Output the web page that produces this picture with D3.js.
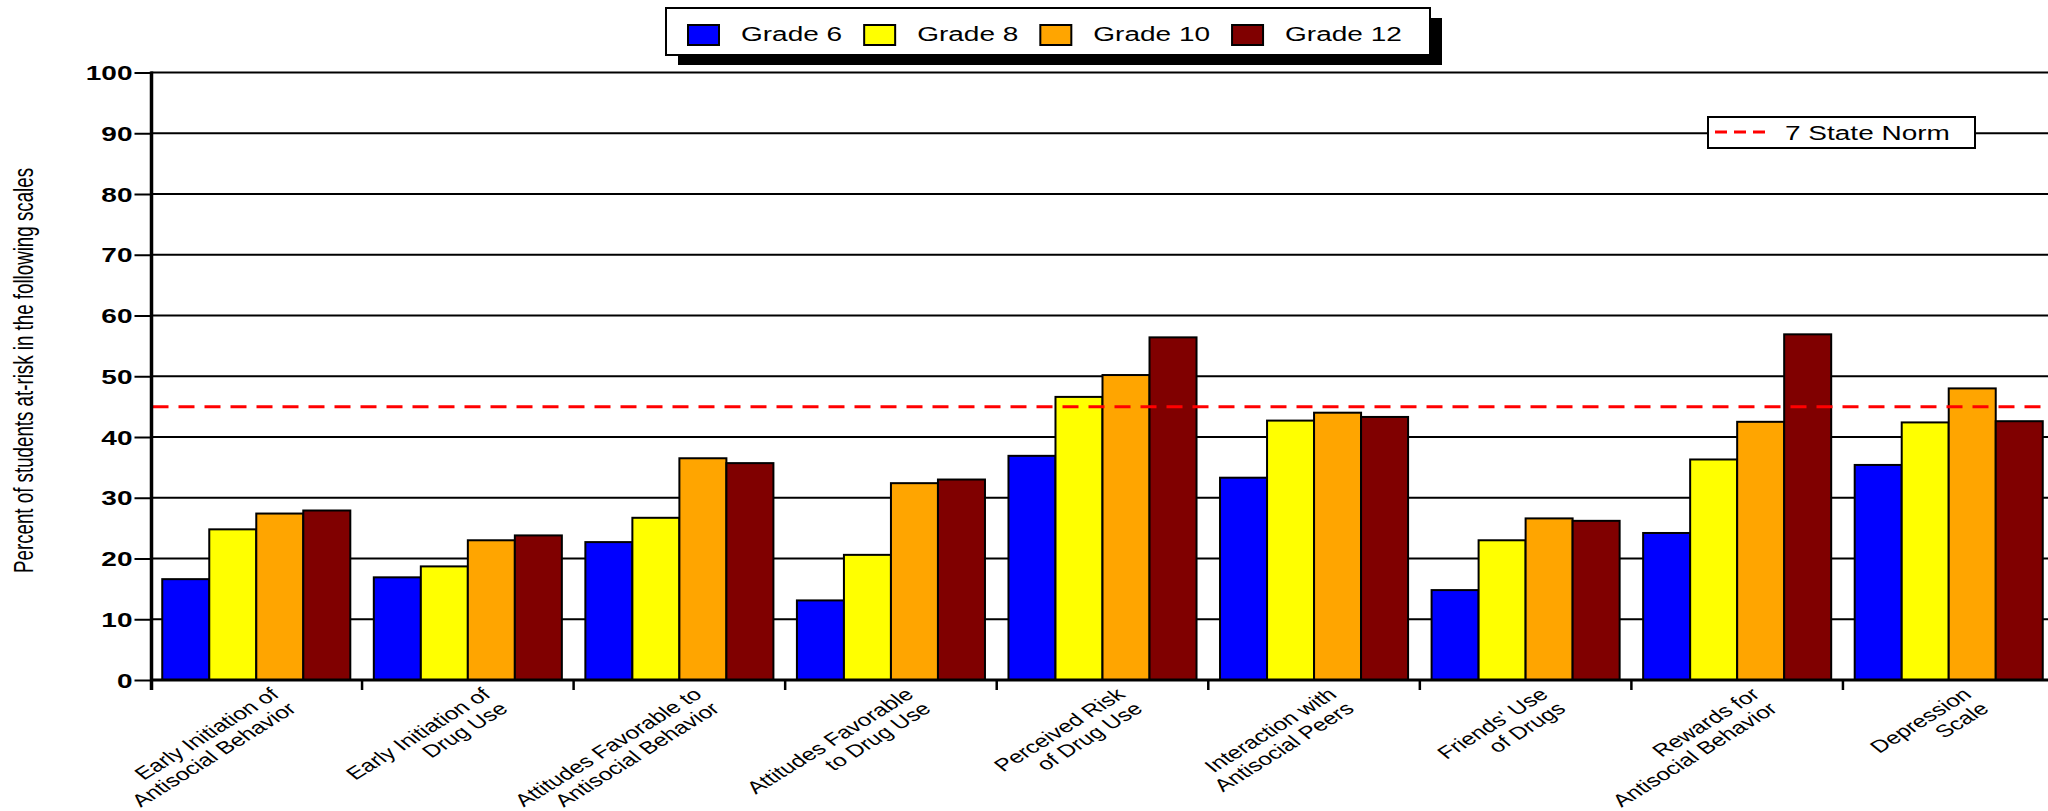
<!DOCTYPE html>
<html>
<head>
<meta charset="utf-8">
<script src="https://d3js.org/d3.v7.min.js"></script>
<style>
  html, body { margin: 0; padding: 0; background: #ffffff; }
  svg { display: block; }
  text { font-family: "Liberation Sans", Arial, sans-serif; fill: #000; }
</style>
</head>
<body>
<script>
// ---------- data ----------
const categories = [
  "Early Initiation of\nAntisocial Behavior",
  "Early Initiation of\nDrug Use",
  "Attitudes Favorable to\nAntisocial Behavior",
  "Attitudes Favorable\nto Drug Use",
  "Perceived Risk\nof Drug Use",
  "Interaction with\nAntisocial Peers",
  "Friends' Use\nof Drugs",
  "Rewards for\nAntisocial Behavior",
  "Depression\nScale"
];
const grades = ["Grade 6", "Grade 8", "Grade 10", "Grade 12"];
const grade6  = [16.6, 16.9, 22.7, 13.1, 36.9, 33.3, 14.8, 24.2, 35.4];
const grade8  = [24.8, 18.7, 26.7, 20.6, 46.6, 42.7, 23.0, 36.3, 42.4];
const grade10 = [27.4, 23.0, 36.5, 32.4, 50.2, 44.0, 26.6, 42.5, 48.0];
const grade12 = [27.9, 23.8, 35.7, 33.0, 56.4, 43.3, 26.2, 56.9, 42.6];
const seriesValues = [grade6, grade8, grade10, grade12];
const gradeColors = ["#0000ff", "#ffff00", "#ffa500", "#800000"];
const yTicks = [0, 10, 20, 30, 40, 50, 60, 70, 80, 90, 100];
const normValue = 45;
const normLabel = "7 State Norm";
const yTitle = "Percent of students at-risk in the following scales";

// ---------- layout ----------
const W = 2048, H = 811;
const SX = 1.4; // horizontal stretch of the original picture's text

const svg = d3.select("body").append("svg").attr("width", W).attr("height", H);

const x0 = d3.scaleBand().domain(categories).range([150.5, 2054.5]).padding(0);
const x1 = d3.scaleBand().domain(grades).range([0, x0.bandwidth()])
  .paddingInner(0).paddingOuter(0.25);
const y = d3.scaleLinear().domain([0, 100]).range([680, 72.5]);
const color = d3.scaleOrdinal().domain(grades).range(gradeColors);

const [xL, xR] = x0.range();

// gridlines
svg.append("g").selectAll("line")
  .data(yTicks.filter(t => t > 0))
  .join("line")
  .attr("x1", xL).attr("x2", xR)
  .attr("y1", d => y(d)).attr("y2", d => y(d))
  .attr("stroke", "#000").attr("stroke-width", 2);

// bars
const rows = categories.map((c, i) => ({
  cat: c,
  vals: grades.map((g, j) => ({ grade: g, value: seriesValues[j][i] }))
}));
svg.append("g").selectAll("g")
  .data(rows)
  .join("g")
  .attr("transform", d => `translate(${x0(d.cat)},0)`)
  .selectAll("rect")
  .data(d => d.vals)
  .join("rect")
  .attr("x", d => x1(d.grade))
  .attr("width", x1.bandwidth())
  .attr("y", d => y(d.value))
  .attr("height", d => y(0) - y(d.value))
  .attr("fill", d => color(d.grade))
  .attr("stroke", "#000")
  .attr("stroke-width", 2);

// norm line
svg.append("line")
  .attr("x1", xL + 2).attr("x2", xR)
  .attr("y1", y(normValue)).attr("y2", y(normValue))
  .attr("stroke", "#ff0000").attr("stroke-width", 3)
  .attr("stroke-dasharray", "16 10");

// y axis
const yAxis = d3.axisLeft(y).tickValues(yTicks).tickSize(17).tickSizeOuter(0);
const yg = svg.append("g").attr("transform", `translate(${xL + 1},0)`).call(yAxis);
yg.select(".domain").remove();
yg.selectAll(".tick line").attr("stroke", "#000").attr("stroke-width", 2);
yg.selectAll(".tick text")
  .attr("x", -19 / SX)
  .attr("dy", "0.36em")
  .attr("transform", `scale(${SX},1)`)
  .style("font-size", "20px")
  .style("font-weight", "bold")
  .style("font-family", "'Liberation Sans', Arial, sans-serif")
  .attr("fill", "#1a1a1a");
svg.append("line")
  .attr("x1", xL + 1).attr("x2", xL + 1)
  .attr("y1", y(100) - 1).attr("y2", y(0) + 10)
  .attr("stroke", "#000").attr("stroke-width", 3.5);

// x axis line + boundary ticks
svg.append("line")
  .attr("x1", xL).attr("x2", xR)
  .attr("y1", y(0)).attr("y2", y(0))
  .attr("stroke", "#000").attr("stroke-width", 3);
svg.append("g").selectAll("line")
  .data(categories.slice(1))
  .join("line")
  .attr("x1", d => x0(d)).attr("x2", d => x0(d))
  .attr("y1", y(0)).attr("y2", y(0) + 10)
  .attr("stroke", "#000").attr("stroke-width", 2.5);

// x labels (two lines, right aligned, slanted)
const lab = svg.append("g").selectAll("g")
  .data(categories)
  .join("g")
  .attr("transform", d => `translate(${x0(d) + x0.bandwidth() / 2 + 24},${y(0) + 16}) scale(${SX},1) rotate(-41)`);
lab.each(function(d) {
  const g = d3.select(this);
  d.split("\n").forEach((line, i) => {
    g.append("text")
      .attr("x", 0).attr("y", i * 19)
      .attr("text-anchor", "end")
      .style("font-size", "17.5px")
      .attr("fill", "#1a1a1a")
      .text(line);
  });
});

// y title
svg.append("text")
  .attr("transform", `translate(33,370.5) scale(${SX},1) rotate(-90)`)
  .attr("text-anchor", "middle")
  .style("font-size", "20px")
  .attr("textLength", 405)
  .attr("lengthAdjust", "spacingAndGlyphs")
  .text(yTitle);

// ---------- top legend ----------
const lg = svg.append("g");
lg.append("rect").attr("x", 678).attr("y", 18).attr("width", 764).attr("height", 47).attr("fill", "#000");
lg.append("rect").attr("x", 666).attr("y", 8).attr("width", 764).attr("height", 47)
  .attr("fill", "#fff").attr("stroke", "#000").attr("stroke-width", 2);
let cur = 688;
grades.forEach(g => {
  lg.append("rect").attr("x", cur).attr("y", 25).attr("width", 31).attr("height", 20)
    .attr("fill", color(g)).attr("stroke", "#000").attr("stroke-width", 2);
  const t = lg.append("text")
    .attr("transform", `translate(${cur + 53},41) scale(${SX},1)`)
    .style("font-size", "20px")
    .attr("fill", "#1a1a1a")
    .text(g);
  const w = t.node().getComputedTextLength() * SX;
  cur += 53 + w + 22;
});

// ---------- norm legend ----------
const ng = svg.append("g");
ng.append("rect").attr("x", 1708).attr("y", 117).attr("width", 267).attr("height", 31)
  .attr("fill", "#fff").attr("stroke", "#000").attr("stroke-width", 2);
ng.append("line").attr("x1", 1715).attr("x2", 1765).attr("y1", 132).attr("y2", 132)
  .attr("stroke", "#ff0000").attr("stroke-width", 3).attr("stroke-dasharray", "12 7");
ng.append("text")
  .attr("transform", `translate(1785,140) scale(${SX},1)`)
  .style("font-size", "20px")
  .attr("fill", "#1a1a1a")
  .text(normLabel);
</script>
</body>
</html>
